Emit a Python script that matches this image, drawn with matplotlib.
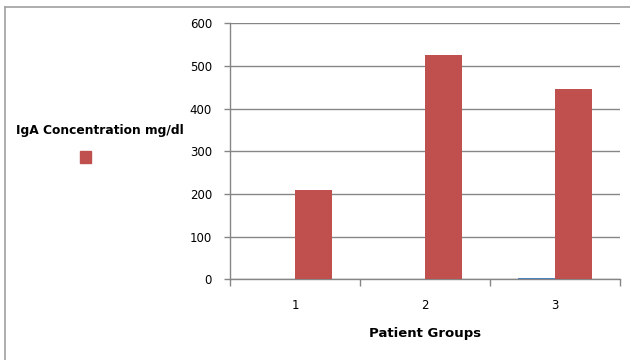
import numpy as np
from matplotlib import pyplot as plt, ticker as tk
from matplotlib.lines import Line2D
from matplotlib.patches import Rectangle

groups = ['1', '2', '3']
blue_vals = [0, 0, 3]
iga_vals = [209, 525, 447]
legend_label = 'IgA Concentration mg/dl'
x_label = 'Patient Groups'

RED = '#C0504D'
BLUE = '#4F81BD'
GRID = '#868686'

W, H = 630, 360
fig = plt.figure(figsize=(W / 100, H / 100), dpi=100)
ax = fig.add_axes([230 / W, 1 - 279.3 / H, 390 / W, (279.3 - 23.3) / H])

x = np.arange(1, len(groups) + 1)
bw = 1 / 3.5
ax.bar(x - bw / 2, blue_vals, width=bw, color=BLUE, zorder=3)
ax.bar(x + bw / 2, iga_vals, width=bw, color=RED, zorder=3)

ax.set_xlim(0.5, len(groups) + 0.5)
ax.set_ylim(0, 600)
ax.yaxis.set_major_locator(tk.MultipleLocator(100))
ax.grid(axis='y', color=GRID, linewidth=1, zorder=0)

ax.set_xticks(x)
ax.set_xticklabels(groups)
ax.set_xticks(np.arange(0.5, len(groups) + 1, 1), minor=True)
ax.tick_params(axis='x', which='major', length=0, pad=14, labelsize=8.5)
ax.tick_params(axis='x', which='minor', length=5, width=1, color=GRID, direction='out')
ax.tick_params(axis='y', length=4, width=1, color=GRID, direction='out', pad=9, labelsize=8.5)

for s in ['top', 'right']:
    ax.spines[s].set_visible(False)
for s in ['left', 'bottom']:
    ax.spines[s].set_color(GRID)
    ax.spines[s].set_linewidth(1)

ax.set_xlabel(x_label, fontsize=9.5, fontweight='bold', labelpad=11)

# legend to the left of the plot
fig.text(100 / W, 1 - 130 / H, legend_label, ha='center', va='center',
         fontsize=8.8, fontweight='bold')
fig.patches.append(Rectangle((80 / W, 1 - 163 / H), 11 / W, 12 / H,
                             transform=fig.transFigure, color=RED))

# chart area frame (top and left edges)
fig.lines.append(Line2D([5 / W, 1], [1 - 7 / H, 1 - 7 / H], transform=fig.transFigure,
                        color='#A0A0A0', linewidth=1.2))
fig.lines.append(Line2D([5 / W, 5 / W], [0, 1 - 7 / H], transform=fig.transFigure,
                        color='#A0A0A0', linewidth=1.2))

fig.savefig('out.png', dpi=100)
